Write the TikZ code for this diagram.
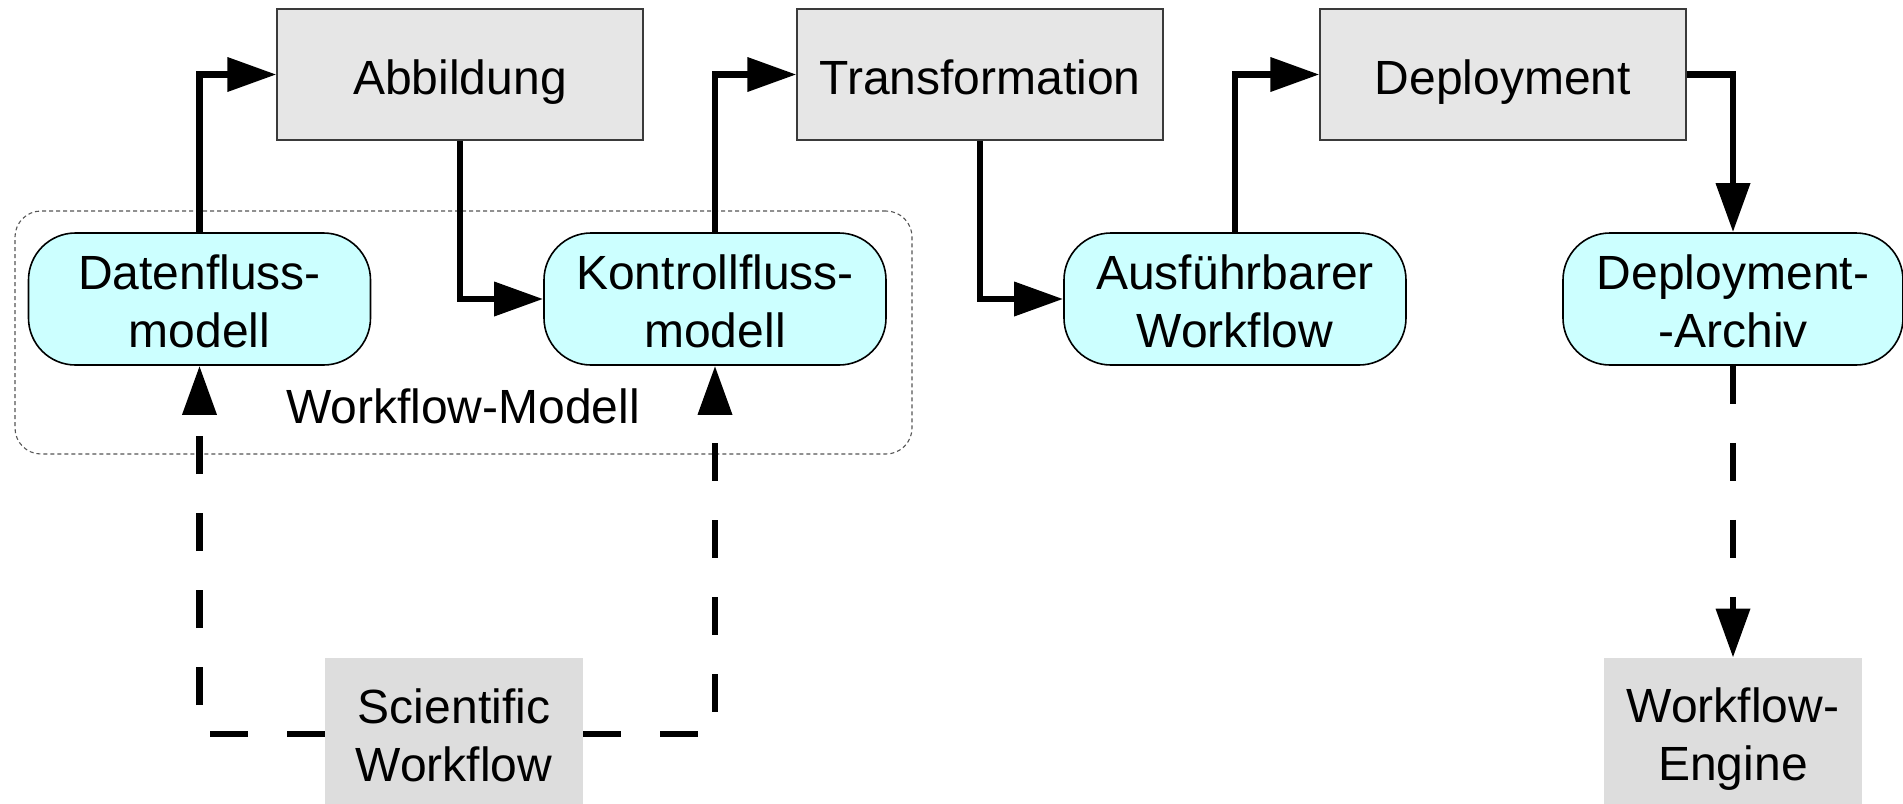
\documentclass[tikz,border=0pt]{standalone}
\usepackage{fontspec}
\setmainfont{Liberation Sans}
\usetikzlibrary{arrows.meta}

\definecolor{stepgray}{HTML}{E6E6E6}
\definecolor{stepedge}{HTML}{3A3A3A}
\definecolor{artefact}{HTML}{CCFFFF}
\definecolor{extgray}{HTML}{DDDDDD}
\definecolor{groupedge}{HTML}{555555}

\tikzset{
  txt/.style={font=\fontsize{24pt}{28.75pt}\selectfont, align=center, inner sep=0pt, anchor=base},
  stepbox/.style={rectangle, draw=stepedge, line width=0.6pt, fill=stepgray,
    minimum width=183pt, minimum height=65.5pt, inner sep=0pt},
  artbox/.style={rectangle, rounded corners=23.5pt, draw=black, line width=0.8pt,
    fill=artefact, minimum width=171pt, minimum height=66pt, inner sep=0pt},
  extbox/.style={rectangle, fill=extgray, minimum width=129pt, minimum height=76pt, inner sep=0pt},
  groupbox/.style={rectangle, rounded corners=13pt, draw=groupedge, line width=0.55pt,
    dash pattern=on 2pt off 1.5pt, minimum width=448.5pt, minimum height=121.5pt, inner sep=0pt},
  flow/.style={line width=3.4pt, -{Triangle[length=24.5pt, width=16.5pt]}},
  dflow/.style={flow, dash pattern=on 19pt off 19.5pt}
}

\begin{document}
\begin{tikzpicture}[x=0.5pt, y=-0.5pt]
  \useasboundingbox (0,0) rectangle (1903,804);
  \clip (0,0) rectangle (1903,804);

  % group frame for the workflow model
  \node[groupbox] (wm) at (463.5,332.5) {};
  \node[txt] (wmlabel) at (463,423) {Workflow-Modell};

  % processing steps
  \node[stepbox] (abb) at (460,74.5) {};
  \node[stepbox] (trf) at (980,74.5) {};
  \node[stepbox] (dep) at (1503,74.5) {};
  \node[txt] (abbtxt) at (460,94) {Abbildung};
  \node[txt] (trftxt) at (980,94) {Transformation};
  \node[txt] (deptxt) at (1503,94) {Deployment};

  % artefacts (text anchored at the baseline of the last line)
  \node[artbox] (dfm) at (199.5,299) {};
  \node[artbox] (kfm) at (715,299) {};
  \node[artbox] (afw) at (1235,299) {};
  \node[artbox, minimum width=170pt] (arch) at (1733,299) {};
  \node[txt] (dfmtxt) at (199.5,347) {Datenfluss-\\modell};
  \node[txt] (kfmtxt) at (715,347) {Kontrollfluss-\\modell};
  \node[txt] (afwtxt) at (1235,347) {Ausführbarer\\Workflow};
  \node[txt] (archtxt) at (1733,347) {Deployment-\\-Archiv};

  % external elements
  \node[extbox] (sci) at (454,734) {};
  \node[extbox] (eng) at (1733,734) {};
  \node[txt] (scitxt) at (454,781) {Scientific\\Workflow};
  \node[txt] (engtxt) at (1733,780) {Workflow-\\Engine};

  % solid process flow
  \draw[flow] (dfm.north) |- (abb.west);
  \draw[flow] (abb.south) |- (kfm.west);
  \draw[flow] (kfm.north) |- (trf.west);
  \draw[flow] (trf.south) |- (afw.west);
  \draw[flow] (afw.north) |- (dep.west);
  \draw[flow] (dep.east) -| (arch.north);

  % dashed relations
  \draw[dflow] (sci.west) -| (dfm.south);
  \draw[dflow] (sci.east) -| (kfm.south);
  \draw[dflow] (arch.south) -- (eng.north);
\end{tikzpicture}
\end{document}
